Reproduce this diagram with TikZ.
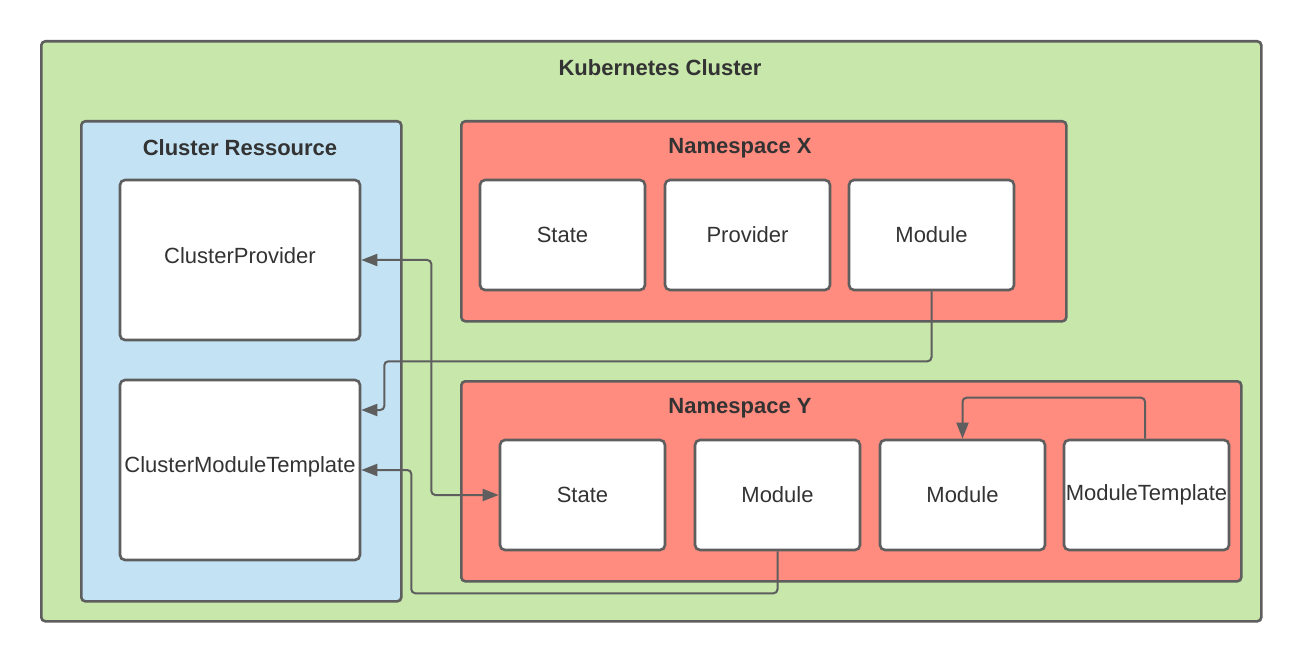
\documentclass[tikz,border=0pt]{standalone}
\usepackage{fontspec}
\setmainfont{Liberation Sans}
\usetikzlibrary{arrows.meta,calc}
\definecolor{bordergray}{HTML}{5E5E5E}
\definecolor{txtgray}{HTML}{333333}
\definecolor{clgreen}{HTML}{C7E7AB}
\definecolor{clblue}{HTML}{C3E3F5}
\definecolor{nsred}{HTML}{FF8C7F}
\begin{document}
\begin{tikzpicture}[x=1pt,y=-1pt,
  area/.style={draw=bordergray,line width=2.6pt,rounded corners=4pt,anchor=north west,inner sep=0pt},
  res/.style={draw=bordergray,fill=white,line width=2.6pt,rounded corners=5pt,inner sep=0pt},
  lbl/.style={text=txtgray,font=\fontsize{22}{26}\selectfont},
  ttl/.style={text=txtgray,font=\fontsize{22}{26}\selectfont\bfseries},
  conn/.style={draw=bordergray,line width=2pt,rounded corners=4pt,
    arrows={-Triangle[length=16pt,width=12pt]}}]
\useasboundingbox (0,0) rectangle (1300,660);
% areas
\node[area,fill=clgreen,minimum width=1220pt,minimum height=580pt] (k8s) at (40,40) {};
\node[ttl] (k8st) at (660,68) {Kubernetes Cluster};
\node[area,fill=clblue,minimum width=320pt,minimum height=480pt] (cr) at (80,120) {};
\node[ttl] (crt) at (240,148) {Cluster Ressource};
\node[area,fill=nsred,minimum width=605pt,minimum height=200pt] (nsx) at (460,120) {};
\node[ttl] (nsxt) at (740,148) {Namespace X};
\node[area,fill=nsred,minimum width=780pt,minimum height=200pt] (nsy) at (460,380) {};
\node[ttl] (nsyt) at (740,408) {Namespace Y};
% cluster resources
\node[res,minimum width=240pt,minimum height=160pt] (cp) at (240,260) {};
\node[lbl] (cpt) at (240,256) {ClusterProvider};
\node[res,minimum width=240pt,minimum height=180pt] (cmt) at (240,470) {};
\node[lbl] (cmtt) at (240,467) {ClusterModuleTemplate};
% namespace X
\node[res,lbl,minimum width=165pt,minimum height=110pt] (sx) at (562.5,235) {State};
\node[res,lbl,minimum width=165pt,minimum height=110pt] (px) at (747.5,235) {Provider};
\node[res,lbl,minimum width=165pt,minimum height=110pt] (mx) at (931.5,235) {Module};
% namespace Y
\node[res,lbl,minimum width=165pt,minimum height=110pt] (sy) at (582.5,495) {State};
\node[res,lbl,minimum width=165pt,minimum height=110pt] (my) at (777.5,495) {Module};
\node[res,lbl,minimum width=165pt,minimum height=110pt] (m2) at (962.5,495) {Module};
\node[res,lbl,minimum width=165pt,minimum height=110pt] (mt) at (1146.5,495) {ModuleTemplate};
% connectors
\draw[conn,arrows={Triangle[length=16pt,width=12pt]-Triangle[length=16pt,width=12pt]}]
  (cp.east) -- ++(70,0) |- (sy.west);
\draw[conn] (mx.south) -- ++(0,70) -| ($(cmt.east)+(23,-60)$) -- ($(cmt.east)+(0,-60)$);
\draw[conn] (my.south) -- ++(0,42) -| ($(cmt.east)+(50,0)$) -- (cmt.east);
\draw[conn] ($(mt.north)+(-1.5,0)$) -- ++(0,-41) -| (m2.north);
\end{tikzpicture}
\end{document}
